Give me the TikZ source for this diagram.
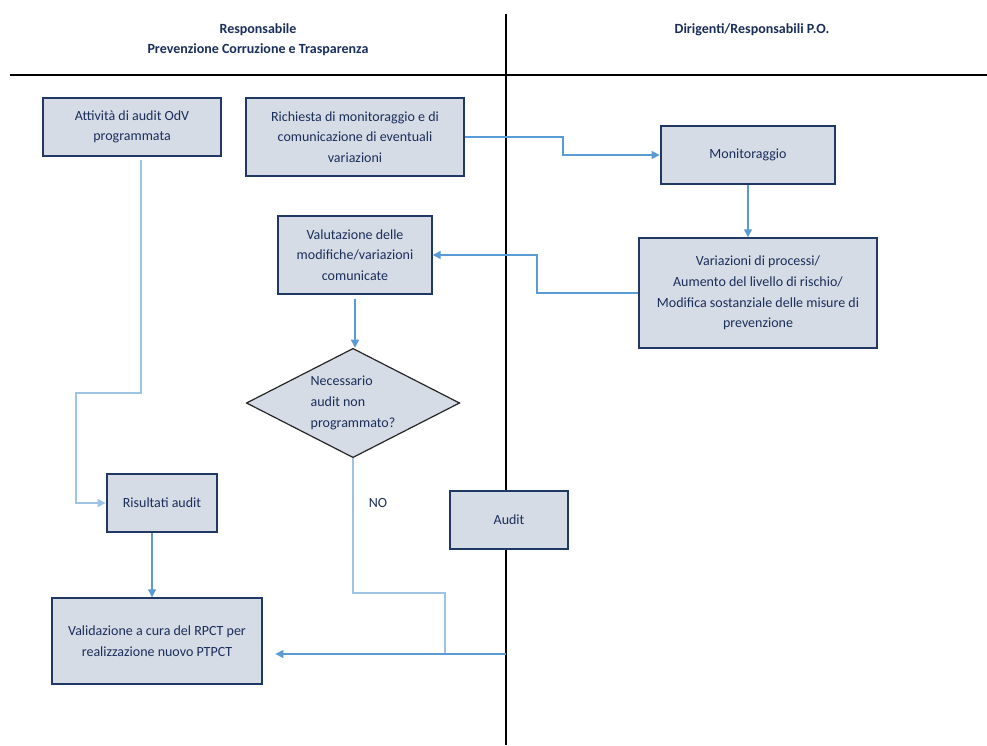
\documentclass[tikz,border=0pt]{standalone}
\usepackage{fontspec}
\setmainfont{Carlito}
\usetikzlibrary{shapes.geometric,arrows.meta}

\definecolor{boxfill}{HTML}{D6DCE5}
\definecolor{boxline}{HTML}{1F3864}
\definecolor{txtcol}{HTML}{1A2E5A}
\definecolor{arrowcol}{HTML}{5B9BD5}
\definecolor{lightline}{HTML}{9DC3E6}

\tikzset{
    stepbox/.style={draw=boxline, line width=1.6pt, fill=boxfill, text=txtcol, align=center, inner sep=2pt, font=\fontsize{10.5}{15.5}\selectfont},
    decision/.style={diamond, aspect=2, draw=black!85, line width=0.9pt, fill=boxfill, text=txtcol, align=left, inner sep=0pt, font=\fontsize{10.5}{15.5}\selectfont},
    flow/.style={arrowcol, line width=1pt, -{Triangle[length=6pt,width=6pt]}},
    thinflow/.style={lightline, line width=0.8pt, -{Triangle[length=6pt,width=6pt]}},
    lane/.style={black, line width=1.1pt},
    header/.style={text=txtcol, align=center, font=\bfseries\fontsize{10.5}{15}\selectfont}
}

\begin{document}
\begin{tikzpicture}[x=0.75pt, y=-0.75pt]
    \useasboundingbox[fill=white] (0,0) rectangle (987,745);

    % swimlanes
    \draw[lane] (506,14) -- (506,745);
    \draw[lane] (10,75) -- (987,75);
    \node[header] (rpct) at (258,40) {Responsabile\\Prevenzione Corruzione e Trasparenza};
    \node[header] (dir) at (752,30) {Dirigenti/Responsabili P.O.};

    % boxes
    \node[stepbox, minimum width=134pt, minimum height=44pt] (attivita) at (132,127) {Attività di audit OdV\\programmata};
    \node[stepbox, minimum width=164pt, minimum height=59pt] (richiesta) at (355,137) {Richiesta di monitoraggio e di\\comunicazione di eventuali\\variazioni};
    \node[stepbox, minimum width=131pt, minimum height=44pt] (monitor) at (748,155) {Monitoraggio};
    \node[stepbox, minimum width=115pt, minimum height=58pt] (valut) at (355,255) {Valutazione delle\\modifiche/variazioni\\comunicate};
    \node[stepbox, minimum width=179pt, minimum height=82pt] (variaz) at (758,293) {Variazioni di processi/\\Aumento del livello di rischio/\\Modifica sostanziale delle misure di\\prevenzione};
    \node[decision, minimum width=160pt, minimum height=82pt] (quest) at (353,403) {Necessario\\audit non\\programmato?};
    \node[stepbox, minimum width=83pt, minimum height=43pt] (risult) at (162,503) {Risultati audit};
    \node[stepbox, minimum width=88pt, minimum height=43pt] (audit) at (509,520) {Audit};
    \node[stepbox, minimum width=158pt, minimum height=64pt] (valid) at (157,641) {Validazione a cura del RPCT per\\realizzazione nuovo PTPCT};
    \node[text=txtcol, font=\fontsize{10.5}{12}\selectfont] (no) at (378,503) {NO};

    % connectors
    \draw[flow] (richiesta.east) -- (563,137) |- (monitor.west);
    \draw[flow] (monitor.south) -- (monitor.south |- variaz.north);
    \draw[flow] (variaz.west) -- (537,293) |- (valut.east);
    \draw[flow] ([yshift=-3pt]valut.south) -- (valut.south |- quest.north);
    \draw[thinflow] ([xshift=6.75pt,yshift=-2pt]attivita.south) |- (76,393) |- (risult.west);
    \draw[flow] ([xshift=-7.5pt]risult.south) -- ([xshift=-7.5pt]risult.south |- valid.north);
    \coordinate (join) at (506,654);
    \draw[lightline, line width=0.8pt] (quest.south) |- (445,593) -- (445,654);
    \draw[flow, shorten >=9pt] (join) -- (join -| valid.east);
\end{tikzpicture}
\end{document}
